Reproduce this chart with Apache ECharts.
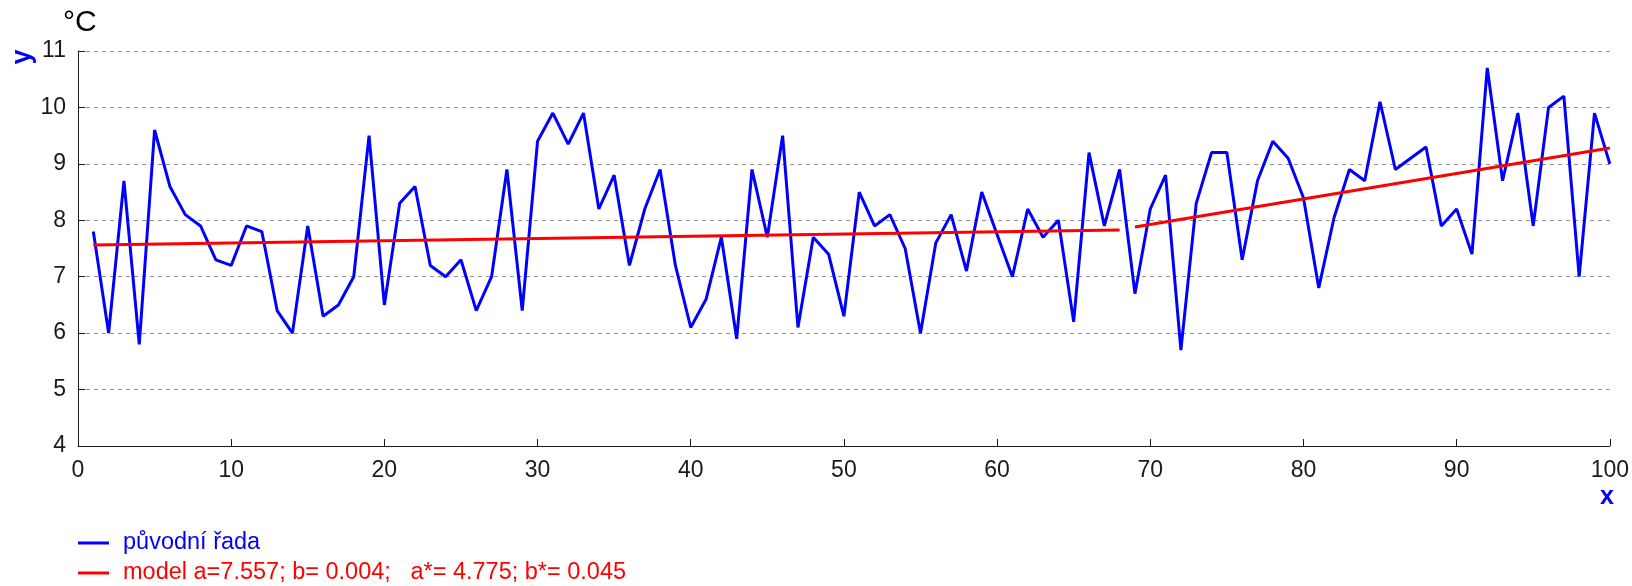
<!DOCTYPE html>
<html>
<head>
<meta charset="utf-8">
<script src="https://cdn.jsdelivr.net/npm/echarts@6/dist/echarts.min.js"></script>
<style>
  html, body { margin: 0; padding: 0; background: #fff; }
  #chart { width: 1632px; height: 586px; }
</style>
</head>
<body>
<div id="chart"></div>
<script>
// ---- data ----
const xValues = [];
for (let i = 1; i <= 100; i++) xValues.push(i);
const original = [
  7.8, 6.0, 8.7, 5.8, 9.6, 8.6, 8.1, 7.9, 7.3, 7.2,
  7.9, 7.8, 6.4, 6.0, 7.9, 6.3, 6.5, 7.0, 9.5, 6.5,
  8.3, 8.6, 7.2, 7.0, 7.3, 6.4, 7.0, 8.9, 6.4, 9.4,
  9.9, 9.35, 9.9, 8.2, 8.8, 7.2, 8.2, 8.9, 7.2, 6.1,
  6.6, 7.7, 5.9, 8.9, 7.7, 9.5, 6.1, 7.7, 7.4, 6.3,
  8.5, 7.9, 8.1, 7.5, 6.0, 7.6, 8.1, 7.1, 8.5, 7.75,
  7.0, 8.2, 7.7, 8.0, 6.2, 9.2, 7.9, 8.9, 6.7, 8.2,
  8.8, 5.7, 8.3, 9.2, 9.2, 7.3, 8.7, 9.4, 9.1, 8.4,
  6.8, 8.05, 8.9, 8.7, 10.1, 8.9, 9.1, 9.3, 7.9, 8.2,
  7.4, 10.7, 8.7, 9.9, 7.9, 10.0, 10.2, 7.0, 9.9, 9.0
];
// model line: two straight segments (end points)
const modelPart1 = [[1, 7.56], [68, 7.83]];
const modelPart2 = [[69, 7.88], [100, 9.28]];
const xTicks = { min: 0, max: 100, interval: 10 };
const yTicks = { min: 4, max: 11, interval: 1 };
const seriesNames = ['původní řada', 'model a=7.557; b= 0.004;   a*= 4.775; b*= 0.045'];

const tickFont = 'Liberation Sans';
const tickSize = 23;

const chart = echarts.init(document.getElementById('chart'), null, { renderer: 'canvas' });
const origData = xValues.map((x, i) => [x, original[i]]);

const GRID = { left: 78, right: 20, top: 51, bottom: 140 };

chart.setOption({
  animation: false,
  backgroundColor: '#ffffff',
  grid: { left: GRID.left, right: GRID.right, top: GRID.top, bottom: GRID.bottom, containLabel: false },
  xAxis: {
    type: 'value',
    min: xTicks.min, max: xTicks.max, interval: xTicks.interval,
    axisLine: { show: true, onZero: false, lineStyle: { color: '#1a1a1a', width: 1 } },
    axisTick: { show: true, inside: true, length: 7, lineStyle: { color: '#1a1a1a' } },
    axisLabel: { color: '#1a1a1a', fontFamily: tickFont, fontSize: tickSize, margin: 13 },
    splitLine: { show: false }
  },
  yAxis: {
    type: 'value',
    min: yTicks.min, max: yTicks.max, interval: yTicks.interval,
    axisLine: { show: true, onZero: false, lineStyle: { color: '#1a1a1a', width: 1 } },
    axisTick: { show: true, inside: true, length: 7, lineStyle: { color: '#1a1a1a' } },
    axisLabel: { color: '#1a1a1a', fontFamily: tickFont, fontSize: tickSize, margin: 12 },
    splitLine: { show: true, lineStyle: { color: '#909090', type: [4, 4], width: 1 } }
  },
  legend: {
    orient: 'vertical',
    left: 78, top: 531,
    padding: 0,
    itemWidth: 31, itemHeight: 3,
    itemGap: 6,
    icon: 'rect',
    selectedMode: false,
    textStyle: { fontFamily: 'Liberation Sans', fontSize: 23.5, padding: [0, 0, 0, 9] },
    data: [
      { name: seriesNames[0], textStyle: { color: '#0000ff' } },
      { name: seriesNames[1], textStyle: { color: '#ff0000' } }
    ]
  },
  graphic: [
    { type: 'text', left: 63, top: 8, style: { text: '°C', font: '30px "Liberation Sans"', fill: '#000' } },
    { type: 'text', x: 23, y: 57, rotation: Math.PI / 2,
      style: { text: 'y', font: 'bold 27px "Liberation Sans"', fill: '#0000ff', align: 'center', verticalAlign: 'middle' } },
    { type: 'text', x: 1607, y: 497,
      style: { text: 'x', font: 'bold 25px "Liberation Sans"', fill: '#0000ff', align: 'center', verticalAlign: 'middle' } }
  ],
  series: [
    {
      name: seriesNames[0], type: 'line', data: origData,
      showSymbol: false, symbol: 'none',
      lineStyle: { color: '#0000ff', width: 3 }, itemStyle: { color: '#0000ff' },
      z: 2
    },
    {
      name: seriesNames[1], type: 'line', data: modelPart1,
      showSymbol: false, symbol: 'none',
      lineStyle: { color: '#ff0000', width: 3 }, itemStyle: { color: '#ff0000' },
      z: 3
    },
    {
      name: seriesNames[1], type: 'line', data: modelPart2,
      showSymbol: false, symbol: 'none',
      lineStyle: { color: '#ff0000', width: 3 }, itemStyle: { color: '#ff0000' },
      z: 3
    }
  ]
});
</script>
</body>
</html>
